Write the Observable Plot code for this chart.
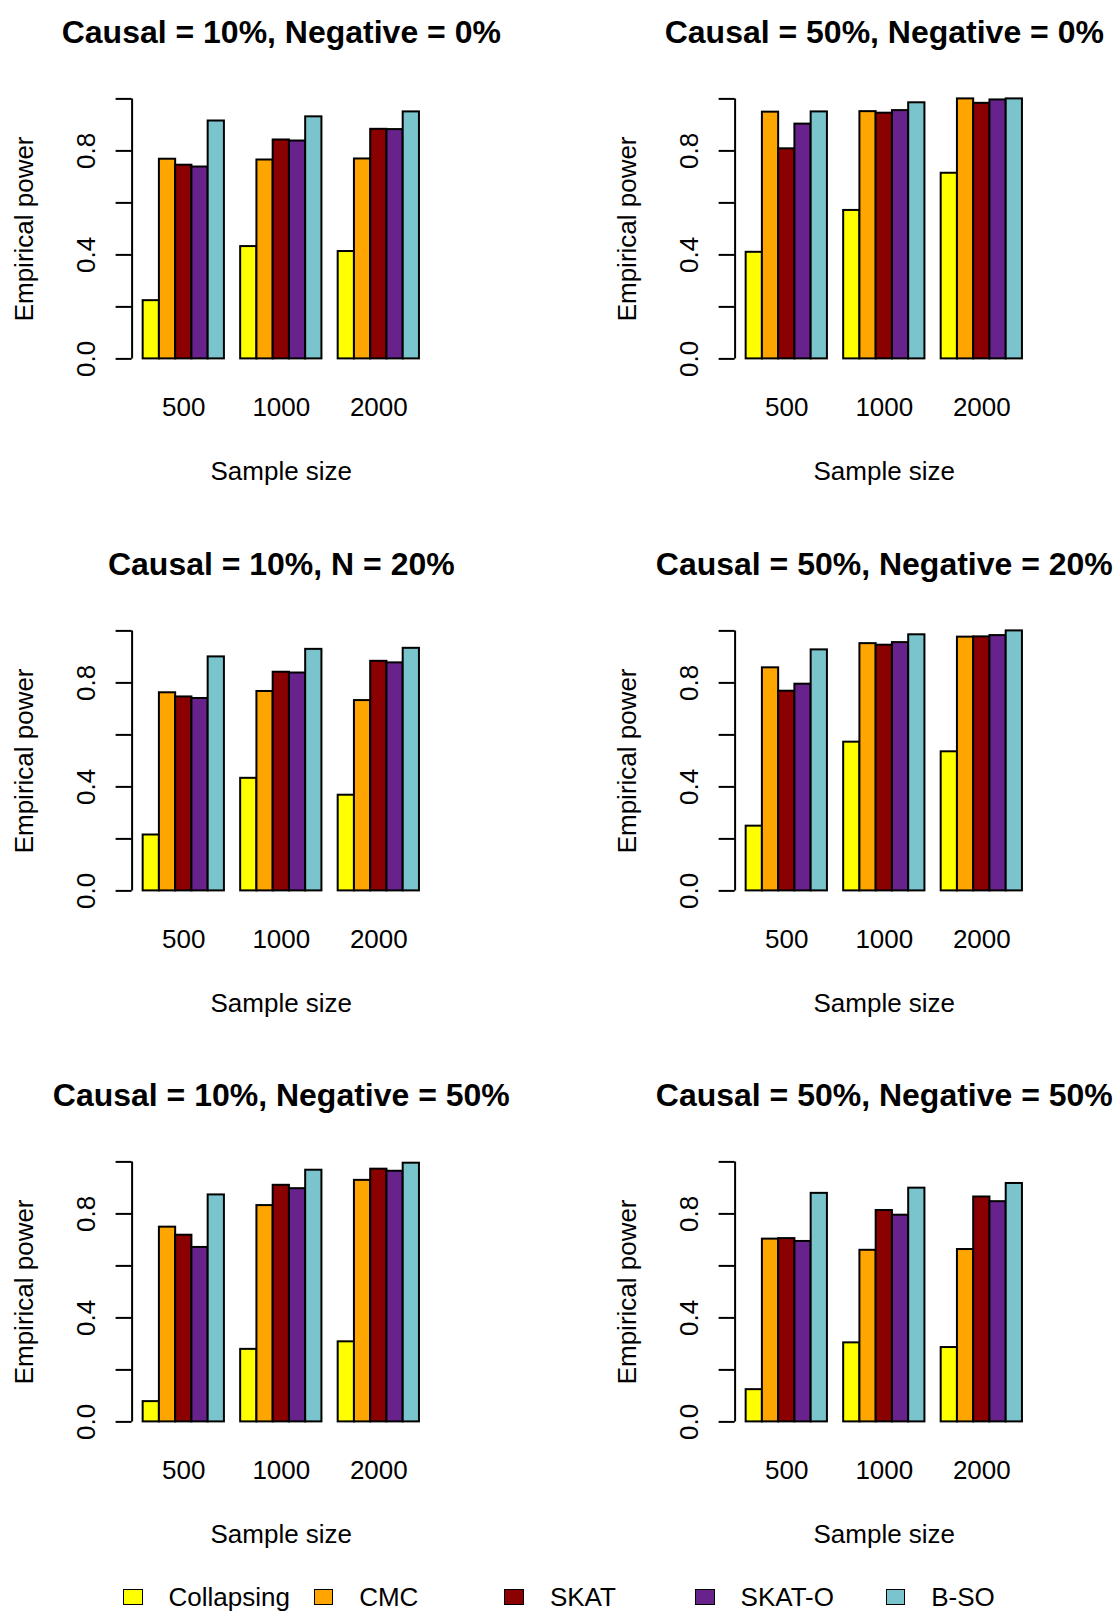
<!DOCTYPE html>
<html>
<head>
<meta charset="utf-8">
<script src="https://cdn.jsdelivr.net/npm/d3@7"></script>
<script src="https://cdn.jsdelivr.net/npm/@observablehq/plot@0.6"></script>
<style>
  html, body { margin: 0; padding: 0; background: #fff; overflow: hidden; }
  body { font-family: "Liberation Sans", Arial, Helvetica, sans-serif; }
  #page { position: relative; width: 1120px; height: 1619px; }
  .panel { position: absolute; }
  .panel svg { max-width: none !important; display: block; }
  #legend { position: absolute; left: 123px; top: 1583px; height: 28px; display: flex; }
  .item { width: 190.7px; display: flex; align-items: center; font-size: 26px; color: #000; }
  .swatch { width: 17.5px; height: 13.5px; border: 1px solid #000; margin-right: 26px; flex: none; }
</style>
</head>
<body>
<div id="page"></div>
<script>
// Methods compared, in bar order within each sample-size group
const methods = ["Collapsing", "CMC", "SKAT", "SKAT-O", "B-SO"];
const methodColors = ["#FFFF00", "#FFA500", "#8B0000", "#68228B", "#7AC5CD"];
const sampleSizes = ["500", "1000", "2000"];
const yTicks = [0, 0.2, 0.4, 0.6, 0.8, 1];
const yTickLabels = [0, 0.4, 0.8];

const panelTitles = [
  "Causal = 10%, Negative = 0%",
  "Causal = 50%, Negative = 0%",
  "Causal = 10%, N = 20%",
  "Causal = 50%, Negative = 20%",
  "Causal = 10%, Negative = 50%",
  "Causal = 50%, Negative = 50%"
];

// Empirical power: one row per sample size, one value per method
const powerC10N0 = [
  [0.224, 0.768, 0.745, 0.738, 0.915],
  [0.432, 0.765, 0.842, 0.838, 0.931],
  [0.413, 0.769, 0.883, 0.882, 0.950]
];
const powerC50N0 = [
  [0.410, 0.949, 0.808, 0.903, 0.950],
  [0.571, 0.951, 0.945, 0.955, 0.985],
  [0.714, 1.000, 0.983, 0.996, 1.000]
];
const powerC10N20 = [
  [0.215, 0.762, 0.746, 0.740, 0.900],
  [0.433, 0.767, 0.841, 0.838, 0.929],
  [0.368, 0.732, 0.883, 0.877, 0.933]
];
const powerC50N20 = [
  [0.249, 0.858, 0.768, 0.795, 0.927],
  [0.572, 0.951, 0.945, 0.955, 0.985],
  [0.535, 0.976, 0.977, 0.982, 1.000]
];
const powerC10N50 = [
  [0.078, 0.749, 0.718, 0.671, 0.873],
  [0.279, 0.832, 0.910, 0.897, 0.968],
  [0.308, 0.929, 0.972, 0.964, 0.995]
];
const powerC50N50 = [
  [0.124, 0.703, 0.705, 0.694, 0.879],
  [0.304, 0.660, 0.813, 0.795, 0.899],
  [0.286, 0.663, 0.865, 0.847, 0.917]
];

const panelValues = [powerC10N0, powerC50N0, powerC10N20, powerC50N20, powerC10N50, powerC50N50];

// Grouped-bar layout: one empty bar-width before each group of bars
const nM = methods.length;
const barLeft = (g, m) => g * (nM + 1) + m + 1;
const groupCenter = (g) => g * (nM + 1) + 1 + nM / 2;
const xMin = 1, xMax = sampleSizes.length * (nM + 1);
const xPad = 0.04 * (xMax - xMin);
const xLo = xMin - xPad, xHi = xMax + xPad;

const FONT = '"Liberation Sans", Arial, Helvetica, sans-serif';
const mL = 131.6, mR = 87, mT = 88, plotW = 298.4, plotH = 280.8, panelH = 531.6;

function panel(title, values) {
  const rows = [];
  values.forEach((grp, g) => grp.forEach((v, m) => rows.push({
    size: sampleSizes[g], method: methods[m], x1: barLeft(g, m), x2: barLeft(g, m) + 1, power: v
  })));
  return Plot.plot({
    width: mL + plotW + mR,
    height: panelH,
    marginLeft: mL,
    marginRight: mR,
    marginTop: mT,
    marginBottom: panelH - mT - plotH,
    style: { fontFamily: FONT, fontSize: "26px", background: "transparent", overflow: "visible", color: "#000" },
    x: { domain: [xLo, xHi], axis: null },
    y: { domain: [-0.04, 1.04], axis: null },
    color: { domain: methods, range: methodColors },
    marks: [
      Plot.rect(rows, { x1: "x1", x2: "x2", y1: 0, y2: "power", fill: "method", stroke: "#000", strokeWidth: 2 }),
      Plot.ruleX([xLo], { y1: 0, y2: 1, stroke: "#000", strokeWidth: 2 }),
      Plot.axisY({
        ticks: yTicks, tickSize: 16, tickPadding: 21.6, tickRotate: -90, strokeWidth: 2,
        tickFormat: (d) => yTickLabels.includes(d) ? d.toFixed(1) : "",
        label: null, fontSize: 26
      }),
      Plot.text(sampleSizes, { x: (d, i) => groupCenter(i), frameAnchor: "bottom", dy: 47, lineAnchor: "bottom", fontSize: 26 }),
      Plot.text(["Sample size"], { frameAnchor: "bottom", dy: 111, lineAnchor: "bottom", fontSize: 26 }),
      Plot.text(["Empirical power"], { frameAnchor: "left", rotate: -90, dx: -(mL - 32), textAnchor: "middle", lineAnchor: "bottom", fontSize: 26 }),
      Plot.text([title], { frameAnchor: "top", dy: -45, lineAnchor: "bottom", fontSize: 32, fontWeight: "bold" })
    ]
  });
}

const page = document.getElementById("page");
const colLeft = [0, 602.7];
panelTitles.forEach((t, i) => {
  const div = document.createElement("div");
  div.className = "panel";
  div.style.left = colLeft[i % 2] + "px";
  div.style.top = Math.floor(i / 2) * panelH + "px";
  div.style.width = (mL + plotW + mR) + "px";
  div.appendChild(panel(t, panelValues[i]));
  page.appendChild(div);
});

// Legend row under the panels
const legend = document.createElement("div");
legend.id = "legend";
methods.forEach((m, i) => {
  const item = document.createElement("div");
  item.className = "item";
  const sw = document.createElement("span");
  sw.className = "swatch";
  sw.style.background = methodColors[i];
  const label = document.createElement("span");
  label.textContent = m;
  item.appendChild(sw);
  item.appendChild(label);
  legend.appendChild(item);
});
page.appendChild(legend);
</script>
</body>
</html>
